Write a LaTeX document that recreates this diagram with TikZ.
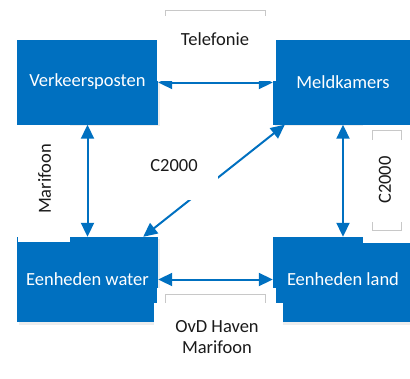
\documentclass[tikz,border=0pt]{standalone}
\usepackage{fontspec}
\setmainfont{Carlito}
\usetikzlibrary{arrows.meta}
\definecolor{vblue}{HTML}{0070C0}
\definecolor{lgray}{HTML}{C8C8C8}
\definecolor{txt}{HTML}{1A1A1A}
\tikzset{
  blbox/.style={draw=none, fill=vblue, text=white, minimum width=#1, minimum height=85pt, inner sep=0pt, font=\fontsize{18.5}{22}\selectfont},
  shad/.style={fill=black!7, draw=none},
  arr/.style={draw=vblue, line width=2pt, {Triangle[length=14pt,width=13pt]}-{Triangle[length=14pt,width=13pt]}},
  cover/.style={fill=white, draw=none},
  frame/.style={draw=lgray, line width=0.8pt, fill=white},
  lbl/.style={text=txt, inner sep=0pt, align=center, font=\fontsize{18.5}{22}\selectfont},
}
\begin{document}
\begin{tikzpicture}[x=1pt, y=-1pt]
\useasboundingbox (0,0) rectangle (410,378);
\clip (0,0) rectangle (410,378);
% shadows
\fill[shad] (18.5,41.5) rectangle (159.5,125.5);
\fill[shad] (274.5,41.5) rectangle (415,125.5);
\fill[shad] (18.5,238.5) rectangle (159.5,324.5);
\fill[shad] (274.5,238.5) rectangle (415,324.5);
% boxes
\node[blbox=141pt] (vp) at (87.5,82) {Verkeersposten};
\node[blbox=140pt] (mk) at (343,82) {Meldkamers};
\node[blbox=141pt] (ew) at (87.5,279.5) {Eenheden water};
\node[blbox=140pt] (el) at (343,279.5) {Eenheden land};
% connectors
\draw[arr] (vp.east |- 0,82.5) -- (mk.west |- 0,82.5);
\draw[arr] (ew.east) -- (el.west);
\draw[arr] (vp.south) -- (ew.north);
\draw[arr] (mk.south) -- (el.north);
\draw[arr] ([xshift=12pt]mk.south west) -- ([xshift=-15pt]ew.north east);
% label backgrounds
\draw[frame] (165,10) rectangle (265,40);
\fill[cover] (157,16) rectangle (276,81.3);
\fill[cover] (157,288) rectangle (276,378);
\draw[frame] (165,294) rectangle (265,320);
\fill[cover] (154,303) rectangle (283,378);
\fill[cover] (18,124.5) rectangle (70,242);
\fill[cover] (130,132) rectangle (218,200);
\fill[cover] (363,125) rectangle (410,243);
\draw[frame] (372,130) rectangle (401,230);
\fill[cover] (364,140) rectangle (410,222);
% labels
\node[lbl] (tel) at (215,39) {Telefonie};
\node[lbl] (ovd) at (217,337) {OvD Haven\\[-1pt]Marifoon};
\node[lbl, rotate=90] (mar) at (44.5,179) {Marifoon};
\node[lbl] (c2a) at (174,166) {C2000};
\node[lbl, rotate=90] (c2b) at (385,180) {C2000};
\end{tikzpicture}
\end{document}
